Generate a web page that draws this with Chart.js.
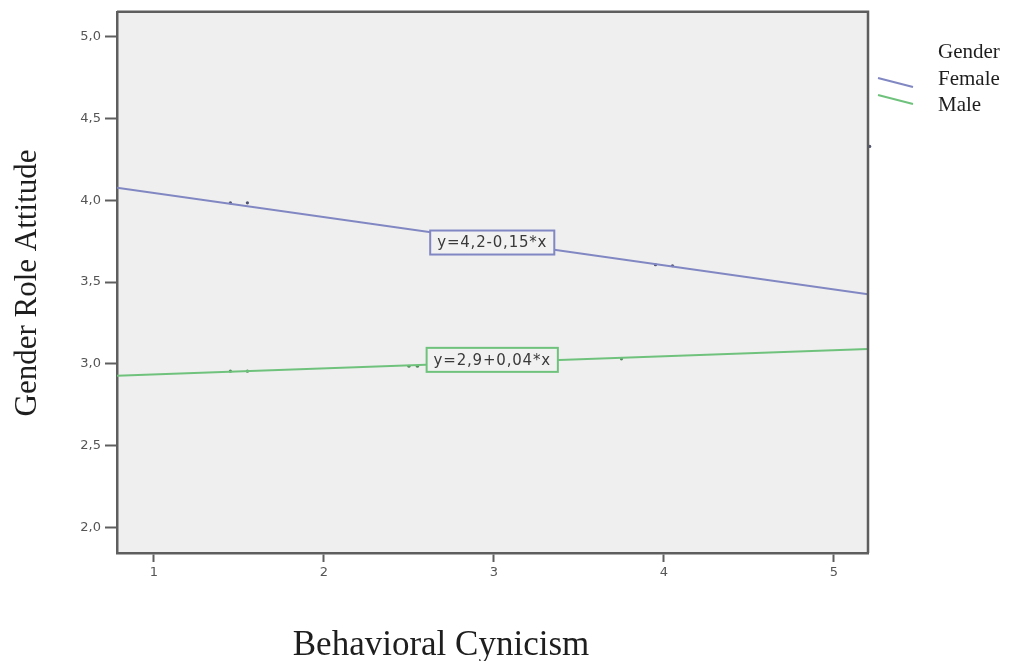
<!DOCTYPE html>
<html><head><meta charset="utf-8">
<script src="https://cdn.jsdelivr.net/npm/chart.js@4/dist/chart.umd.min.js"></script>
<style>html,body{margin:0;padding:0;background:#fff}canvas{display:block}</style>
</head><body>
<canvas id="c" width="1010" height="661"></canvas>
<script>
// ---- data ----
const xTicks = [1, 2, 3, 4, 5];
const yTicks = [2.0, 2.5, 3.0, 3.5, 4.0, 4.5, 5.0];
const xRange = [0.783, 5.2];
const yRange = [1.842, 5.154];
const seriesNames = ['Female', 'Male'];
const femaleX = [0.783, 5.2];
const femaleY = [4.077, 3.425];
const maleX = [0.783, 5.2];
const maleY = [2.926, 3.091];
const femaleDotsX = [1.45, 1.55, 3.95, 4.05, 5.21];
const femaleDotsY = [3.985, 3.985, 3.606, 3.600, 4.33];
const maleDotsX = [1.45, 1.55, 2.5, 2.55, 3.75];
const maleDotsY = [2.955, 2.955, 2.985, 2.985, 3.030];
const femaleEq = 'y=4,2-0,15*x';
const maleEq = 'y=2,9+0,04*x';
const femaleEqPos = [2.99, 3.742];
const maleEqPos = [2.99, 3.024];
const legendTitle = 'Gender';
const xTitle = 'Behavioral Cynicism';
const yTitle = 'Gender Role Attitude';

const femaleColor = '#8087c2';
const maleColor = '#6fc27c';

const pts = (xs, ys) => xs.map((x, i) => ({x, y: ys[i]}));

const deco = {
  id: 'deco',
  beforeDraw(chart) {
    const {ctx, chartArea: a} = chart;
    ctx.save();
    ctx.fillStyle = '#efefef';
    ctx.fillRect(a.left, a.top, a.right - a.left, a.bottom - a.top);
    ctx.restore();
  },
  afterDraw(chart) {
    const {ctx, chartArea: a, scales} = chart;
    ctx.save();
    // top & right frame
    ctx.strokeStyle = '#5e5e5e';
    ctx.lineWidth = 2.5;
    ctx.beginPath();
    ctx.moveTo(a.left, a.top);
    ctx.lineTo(a.right, a.top);
    ctx.lineTo(a.right, a.bottom);
    ctx.stroke();

    // equation boxes
    const eqBox = (txt, pos, col) => {
      const px = scales.x.getPixelForValue(pos[0]);
      const py = scales.y.getPixelForValue(pos[1]);
      ctx.font = '15px "DejaVu Sans"';
      ctx.letterSpacing = '0.8px';
      const w = ctx.measureText(txt).width + 14;
      const h = 24;
      ctx.fillStyle = '#f1f1f1';
      ctx.fillRect(px - w / 2, py - h / 2, w, h);
      ctx.strokeStyle = col;
      ctx.lineWidth = 2;
      ctx.strokeRect(px - w / 2, py - h / 2, w, h);
      ctx.fillStyle = '#3a3a3a';
      ctx.textAlign = 'center';
      ctx.textBaseline = 'middle';
      ctx.fillText(txt, px, py + 1);
      ctx.letterSpacing = '0px';
    };
    eqBox(femaleEq, femaleEqPos, femaleColor);
    eqBox(maleEq, maleEqPos, maleColor);

    // axis titles
    ctx.fillStyle = '#1e1e1e';
    ctx.textAlign = 'center';
    ctx.textBaseline = 'alphabetic';
    ctx.font = '35px "Liberation Serif"';
    ctx.fillText(xTitle, 441, 655);
    ctx.save();
    ctx.translate(36, 283);
    ctx.rotate(-Math.PI / 2);
    ctx.font = '31px "Liberation Serif"';
    ctx.fillText(yTitle, 0, 0);
    ctx.restore();

    // legend
    ctx.textAlign = 'left';
    ctx.font = '21px "Liberation Serif"';
    ctx.fillStyle = '#1e1e1e';
    ctx.fillText(legendTitle, 938, 58);
    ctx.fillText(seriesNames[0], 938, 85);
    ctx.fillText(seriesNames[1], 938, 111);
    ctx.lineWidth = 2;
    ctx.strokeStyle = femaleColor;
    ctx.beginPath(); ctx.moveTo(878, 78); ctx.lineTo(913, 87); ctx.stroke();
    ctx.strokeStyle = maleColor;
    ctx.beginPath(); ctx.moveTo(878, 95); ctx.lineTo(913, 104); ctx.stroke();
    ctx.restore();
  }
};

new Chart(document.getElementById('c'), {
  type: 'scatter',
  data: {
    datasets: [
      {label: seriesNames[0], data: pts(femaleX, femaleY), showLine: true, borderColor: femaleColor, borderWidth: 2, pointRadius: 0},
      {label: seriesNames[1], data: pts(maleX, maleY), showLine: true, borderColor: maleColor, borderWidth: 2, pointRadius: 0},
      {label: 'f-pts', data: pts(femaleDotsX, femaleDotsY), showLine: false, pointRadius: 1.6, pointBackgroundColor: '#4f5270', pointBorderWidth: 0, clip: false},
      {label: 'm-pts', data: pts(maleDotsX, maleDotsY), showLine: false, pointRadius: 1.6, pointBackgroundColor: '#4f8a58', pointBorderWidth: 0}
    ]
  },
  options: {
    responsive: false,
    animation: false,
    devicePixelRatio: 1,
    layout: {padding: {left: 0, right: 142, top: 9, bottom: 0}},
    plugins: {legend: {display: false}, tooltip: {enabled: false}},
    scales: {
      x: {
        type: 'linear', min: xRange[0], max: xRange[1],
        afterBuildTicks: s => { s.ticks = xTicks.map(v => ({value: v})); },
        afterFit: s => { s.height = 108; },
        grid: {drawOnChartArea: false, drawTicks: true, tickLength: 9, tickWidth: 2, color: '#5e5e5e'},
        border: {display: true, color: '#5e5e5e', width: 2.5},
        ticks: {padding: 3, color: '#555', font: {family: 'DejaVu Sans', size: 13}, maxRotation: 0, callback: v => String(v)}
      },
      y: {
        type: 'linear', min: yRange[0], max: yRange[1],
        afterBuildTicks: s => { s.ticks = yTicks.map(v => ({value: v})); },
        afterFit: s => { s.width = 117; },
        grid: {drawOnChartArea: false, drawTicks: true, tickLength: 12, tickWidth: 2, color: '#5e5e5e'},
        border: {display: true, color: '#5e5e5e', width: 2.5},
        ticks: {padding: 4, color: '#555', font: {family: 'DejaVu Sans', size: 13}, callback: v => v.toFixed(1).replace('.', ',')}
      }
    }
  },
  plugins: [deco]
});
</script>
</body></html>
